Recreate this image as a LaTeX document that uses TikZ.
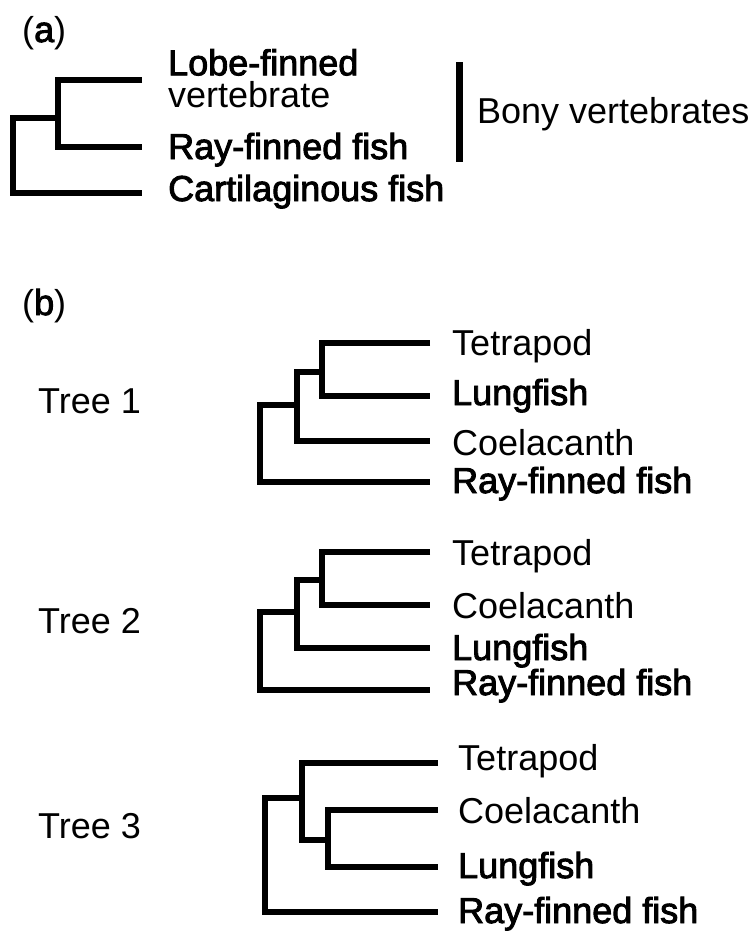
\documentclass[tikz,border=0pt]{standalone}
\usepackage{fontspec}
\setmainfont{Liberation Sans}
\newfontfamily\heavyfont{Liberation Sans}[FakeBold=2.5]
\begin{document}
\begin{tikzpicture}[x=1pt,y=-1pt,
  lab/.style={anchor=base west,inner sep=0pt,font=\fontsize{36}{40}\selectfont},
  hlab/.style={anchor=base west,inner sep=0pt,font=\fontsize{36}{40}\selectfont\heavyfont},
  branch/.style={line width=6.5pt,line join=miter},
]
\useasboundingbox (0,0) rectangle (750,937);

% ---------- panel (a) ----------
\node[lab] (pa) at (22,42) {({\heavyfont a})};
\coordinate (aLobe) at (142,80);
\coordinate (aRay) at (142,147);
\coordinate (aCart) at (142,193);
\coordinate (ai) at (58,118);
\coordinate (ar) at (13,155);
\draw[branch] (aLobe) -| (ai) |- (aRay);
\draw[branch] (ai) -| (ar) |- (aCart);
\node[anchor=north west,inner sep=0pt,align=left,font=\fontsize{36}{32}\selectfont] (tLobe) at (168,49)
  {{\heavyfont Lobe-finned}\\vertebrate};
\node[hlab] (tRayA) at (168,159) {Ray-finned fish};
\node[hlab] (tCart) at (168,201) {Cartilaginous fish};
\coordinate (barT) at (459,62);
\coordinate (barB) at (459,162);
\draw[line width=7pt] (barT) -- (barB);
\node[lab] (tBony) at (477,123) {Bony vertebrates};

% ---------- panel (b) ----------
\node[lab] (pb) at (22,315) {({\heavyfont b})};

% Tree 1
\node[lab] (tr1) at (38,413) {Tree 1};
\coordinate (aT1) at (430,343);
\coordinate (aL1) at (430,396);
\coordinate (aC1) at (430,441);
\coordinate (aR1) at (430,482);
\coordinate (n11) at (322,372);
\coordinate (n12) at (297,405);
\coordinate (r1) at (260,443);
\draw[branch] (aT1) -| (n11) |- (aL1);
\draw[branch] (n11) -| (n12) |- (aC1);
\draw[branch] (n12) -| (r1) |- (aR1);
\node[lab] (l1a) at (452,355) {Tetrapod};
\node[hlab] (l1b) at (452,405) {Lungfish};
\node[lab] (l1c) at (452,455) {Coelacanth};
\node[hlab] (l1d) at (452,493) {Ray-finned fish};

% Tree 2
\node[lab] (tr2) at (38,633) {Tree 2};
\coordinate (aT2) at (430,552);
\coordinate (aC2) at (430,605);
\coordinate (aL2) at (430,648);
\coordinate (aR2) at (430,690);
\coordinate (n21) at (322,580);
\coordinate (n22) at (297,612);
\coordinate (r2) at (260,650);
\draw[branch] (aT2) -| (n21) |- (aC2);
\draw[branch] (n21) -| (n22) |- (aL2);
\draw[branch] (n22) -| (r2) |- (aR2);
\node[lab] (l2a) at (452,565) {Tetrapod};
\node[lab] (l2b) at (452,618) {Coelacanth};
\node[hlab] (l2c) at (452,660) {Lungfish};
\node[hlab] (l2d) at (452,695) {Ray-finned fish};

% Tree 3
\node[lab] (tr3) at (38,838) {Tree 3};
\coordinate (aT3) at (438,763);
\coordinate (aC3) at (438,810);
\coordinate (aL3) at (438,867);
\coordinate (aR3) at (438,912);
\coordinate (n31) at (328,840);
\coordinate (n32) at (302,798);
\coordinate (r3) at (265,850);
\draw[branch] (aC3) -| (n31) |- (aL3);
\draw[branch] (aT3) -| (n32) |- (n31);
\draw[branch] (n32) -| (r3) |- (aR3);
\node[lab] (l3a) at (458,770) {Tetrapod};
\node[lab] (l3b) at (458,823) {Coelacanth};
\node[hlab] (l3c) at (458,878) {Lungfish};
\node[hlab] (l3d) at (458,923) {Ray-finned fish};
\end{tikzpicture}
\end{document}
